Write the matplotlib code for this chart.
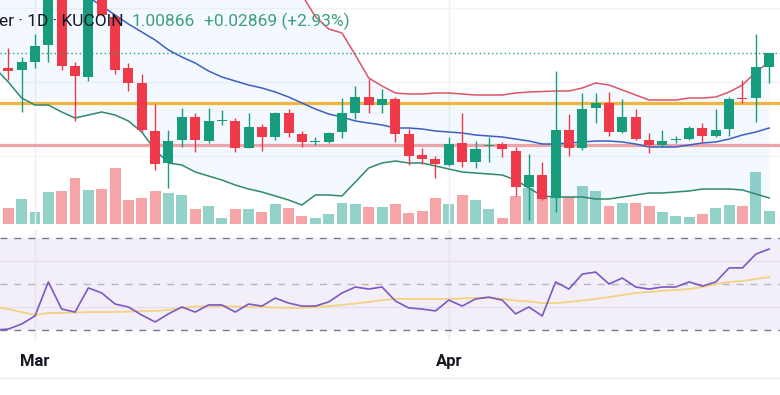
import numpy as np
import pandas as pd
import matplotlib
matplotlib.use("Agg")
import matplotlib.pyplot as plt
import matplotlib.dates as mdates

# daily candles, 27 Feb .. 25 Apr
dates = pd.date_range("2024-02-27", "2024-04-25", freq="D")

opens = [1.0045, 0.9785, 0.9745, 0.9905, 1.0245, 1.1545, 0.9825, 0.9605, 1.1445, 1.0805,
         0.9785, 0.9485, 0.8525, 0.7885, 0.8345, 0.8805, 0.8325, 0.8735, 0.8725, 0.8185,
         0.8605, 0.8405, 0.8885, 0.8465, 0.8305, 0.8305, 0.8505, 0.8885, 0.9205, 0.9045,
         0.9165, 0.8465, 0.8045, 0.7965, 0.7845, 0.8285, 0.7905, 0.8225, 0.8265, 0.8125,
         0.7405, 0.7645, 0.7185, 0.8545, 0.8185, 0.8985, 0.9085, 0.8505, 0.8805, 0.8345,
         0.8245, 0.8345, 0.8365, 0.8585, 0.8425, 0.8565, 0.9185, 0.9185, 0.9805]
highs = [1.0105, 1.0185, 1.0005, 1.0465, 1.1745, 1.1645, 0.9905, 1.1545, 1.1505, 1.0845,
         0.9885, 0.9665, 0.9065, 0.8545, 0.8985, 0.8885, 0.8985, 0.8945, 0.8785, 0.8885,
         0.8665, 0.8905, 0.8965, 0.8525, 0.8405, 0.8505, 0.9185, 0.9425, 0.9565, 0.9365,
         0.9205, 0.8565, 0.8185, 0.8025, 0.8405, 0.8885, 0.8325, 0.8405, 0.8305, 0.8205,
         0.8065, 0.7905, 0.9725, 0.8865, 0.9285, 0.9285, 0.9305, 0.9165, 0.8965, 0.8485,
         0.8545, 0.8425, 0.8625, 0.8685, 0.8965, 0.9205, 0.9545, 1.0465, 1.0085]
lows = [0.9765, 0.9545, 0.8905, 0.9785, 0.9905, 0.9745, 0.8725, 0.9525, 1.0825, 0.9665,
        0.9325, 0.8505, 0.7745, 0.7385, 0.8205, 0.8105, 0.8285, 0.8645, 0.8105, 0.8185,
        0.8125, 0.8345, 0.8405, 0.8205, 0.8245, 0.8285, 0.8385, 0.8765, 0.8885, 0.8885,
        0.8305, 0.7845, 0.7865, 0.7585, 0.7825, 0.7805, 0.7785, 0.7905, 0.8005, 0.7225,
        0.6745, 0.7145, 0.6905, 0.8025, 0.8145, 0.8685, 0.8425, 0.8485, 0.8345, 0.8085,
        0.8205, 0.8285, 0.8345, 0.8285, 0.8405, 0.8425, 0.9085, 0.8705, 0.9485]
closes = [0.9805, 0.9735, 0.9905, 1.0225, 1.1545, 0.9825, 0.9625, 1.1445, 1.0845, 0.9745,
          0.9485, 0.8545, 0.7865, 0.8325, 0.8805, 0.8345, 0.8725, 0.8755, 0.8185, 0.8605,
          0.8405, 0.8885, 0.8485, 0.8305, 0.8325, 0.8485, 0.8885, 0.9205, 0.9045, 0.9165,
          0.8465, 0.8025, 0.7965, 0.7865, 0.8265, 0.7905, 0.8165, 0.8245, 0.8165, 0.7405,
          0.7645, 0.7165, 0.8545, 0.8185, 0.8965, 0.9085, 0.8505, 0.8805, 0.8365, 0.8245,
          0.8325, 0.8365, 0.8585, 0.8425, 0.8545, 0.9165, 0.9165, 0.9805, 1.0085]
volume = [2.2, 1.6, 2.5, 1.2, 3.2, 3.3, 4.6, 3.4, 3.5, 5.6,
          2.4, 2.6, 3.3, 3.1, 2.9, 1.5, 1.8, 0.6, 1.5, 1.5,
          1.2, 2.0, 1.6, 0.8, 0.6, 1.0, 2.1, 2.0, 1.7, 1.7,
          2.0, 1.1, 1.3, 2.6, 2.0, 2.9, 2.4, 1.5, 0.6, 2.8,
          3.6, 2.7, 2.7, 2.7, 3.8, 3.3, 1.8, 2.1, 2.1, 1.8,
          1.2, 0.8, 0.7, 1.0, 1.6, 1.9, 1.8, 5.2, 1.3]

# Bollinger bands
bb_upper = [1.2945, 1.3045, 1.3145, 1.3145, 1.3145, 1.3145, 1.3145, 1.3045, 1.2945, 1.2845,
            1.2745, 1.2645, 1.2545, 1.2445, 1.2345, 1.2245, 1.2145, 1.2045, 1.1945, 1.1845,
            1.1745, 1.1645, 1.1545, 1.1245, 1.0815, 1.0565, 1.0485, 1.0045, 0.9585, 0.9425,
            0.9285, 0.9265, 0.9265, 0.9285, 0.9285, 0.9265, 0.9245, 0.9245, 0.9245, 0.9285,
            0.9305, 0.9315, 0.9325, 0.9325, 0.9385, 0.9485, 0.9445, 0.9345, 0.9245, 0.9145,
            0.9145, 0.9145, 0.9185, 0.9185, 0.9205, 0.9305, 0.9445, 0.9705, 0.9905]
bb_basis = [1.2305, 1.2145, 1.1985, 1.1825, 1.1665, 1.1505, 1.1345, 1.1205, 1.1025, 1.0845,
            1.0665, 1.0505, 1.0345, 1.0145, 1.0005, 0.9885, 0.9725, 0.9605, 0.9525, 0.9445,
            0.9385, 0.9305, 0.9205, 0.9085, 0.8965, 0.8865, 0.8805, 0.8725, 0.8685, 0.8645,
            0.8585, 0.8585, 0.8565, 0.8525, 0.8505, 0.8485, 0.8445, 0.8425, 0.8405, 0.8365,
            0.8325, 0.8265, 0.8265, 0.8285, 0.8305, 0.8325, 0.8325, 0.8305, 0.8265, 0.8205,
            0.8205, 0.8205, 0.8245, 0.8285, 0.8305, 0.8365, 0.8445, 0.8505, 0.8585]
bb_lower = [0.9785, 0.9505, 0.9185, 0.9045, 0.9045, 0.8905, 0.8785, 0.8845, 0.8905, 0.8845,
            0.8725, 0.8505, 0.8145, 0.7885, 0.7845, 0.7705, 0.7625, 0.7545, 0.7445, 0.7365,
            0.7305, 0.7225, 0.7145, 0.7045, 0.7245, 0.7245, 0.7225, 0.7505, 0.7785, 0.7885,
            0.7925, 0.7885, 0.7885, 0.7825, 0.7765, 0.7705, 0.7685, 0.7665, 0.7645, 0.7545,
            0.7385, 0.7225, 0.7205, 0.7205, 0.7205, 0.7165, 0.7165, 0.7205, 0.7245, 0.7285,
            0.7285, 0.7305, 0.7325, 0.7365, 0.7365, 0.7365, 0.7345, 0.7265, 0.7185]

rsi = [30.0, 30.4, 32.6, 36.1, 50.9, 39.1, 37.8, 48.3, 46.1, 41.3,
       40.0, 36.5, 33.5, 37.0, 40.0, 37.8, 40.9, 40.9, 37.8, 41.3,
       40.4, 43.9, 41.7, 40.4, 40.4, 42.2, 46.1, 48.7, 47.8, 48.7,
       42.6, 39.6, 39.1, 38.3, 43.0, 40.4, 43.5, 44.3, 43.0, 37.0,
       40.0, 36.1, 50.9, 47.8, 54.3, 55.2, 50.0, 52.6, 48.7, 47.8,
       48.7, 48.7, 50.9, 49.1, 50.9, 57.0, 57.0, 63.0, 65.2]
rsi_ma = [40.0, 39.1, 37.8, 36.5, 37.4, 37.4, 37.6, 37.8, 37.8, 37.8,
          38.0, 38.3, 38.3, 38.7, 39.6, 40.2, 40.4, 40.4, 40.2, 40.0,
          40.0, 39.8, 39.6, 39.6, 40.0, 40.4, 40.9, 41.5, 42.2, 43.0,
          43.5, 43.5, 43.5, 43.5, 43.5, 43.7, 43.9, 43.9, 43.5, 42.8,
          42.4, 41.7, 41.7, 42.2, 42.8, 43.5, 44.3, 45.2, 46.1, 46.5,
          47.0, 47.4, 47.8, 48.7, 50.0, 50.9, 51.3, 52.2, 53.0]

resistance = 0.9095
support = 0.8245
symbol_text = "er · 1D · KUCOIN"
price_text = "1.00866"
change_text = "+0.02869 (+2.93%)"

UP, DOWN = "#179c7d", "#ef3a4a"
UP_VOL, DOWN_VOL = "#93d2c8", "#f5a5a8"

x = mdates.date2num(dates)
o, h, l, c = map(np.array, (opens, highs, lows, closes))
up = c >= o
x_start = mdates.date2num(pd.Timestamp("2024-03-01"))
xlim = (x_start - 2.62, x_start + 55.81)

W, H = 780, 395
fig = plt.figure(figsize=(W / 100, H / 100), dpi=100)


def rect(top, bottom):
    return [0, 1 - bottom / H, 1, (bottom - top) / H]


# volume pane sits under the price pane
vax = fig.add_axes(rect(0, 224))
vax.bar(x, volume, width=0.82, color=np.where(up, UP_VOL, DOWN_VOL), lw=0)
vax.set_ylim(0, 22.4)

ax = fig.add_axes(rect(0, 225))
ax.patch.set_visible(False)
ax.set_ylim(1.1145 - 0.45, 1.1145)

for g in (1.0985, 0.9505, 0.8025):
    ax.axhline(g, color="#f0f3fa", lw=1, zorder=0)
for m in ("2024-03-01", "2024-04-01"):
    ax.axvline(mdates.date2num(pd.Timestamp(m)), color="#eceff5", lw=1, zorder=0)

ax.fill_between(x, bb_lower, bb_upper, color="#2196f3", alpha=0.05, lw=0, zorder=1)
ax.axhline(resistance, color="#f2b441", lw=2.3, zorder=2)
ax.axhline(support, color="#eca3aa", lw=2.3, zorder=2)
ax.plot(x, bb_upper, color="#dd5564", lw=1.1, zorder=3)
ax.plot(x, bb_basis, color="#3d5ec4", lw=1.1, zorder=3)
ax.plot(x, bb_lower, color="#2f8a6e", lw=1.1, zorder=3)

cols = np.where(up, UP, DOWN)
ax.vlines(x, l, h, color=cols, lw=1, zorder=4)
body = np.maximum(np.abs(c - o), 0.0015)
ax.bar(x, body, bottom=np.minimum(o, c), width=0.75, color=cols, lw=0, zorder=5)

ax.axhline(closes[-1], color="#2a9d84", lw=1, ls=(0, (1, 2)), zorder=6)

# RSI pane
rax = fig.add_axes(rect(230, 340))
rax.set_ylim(25.65, 73.48)
rax.axhspan(30, 70, color="#7e57c2", alpha=0.09, lw=0)
for g in (60, 40):
    rax.axhline(g, color="#e4dff0", lw=1)
for m in ("2024-03-01", "2024-04-01"):
    rax.axvline(mdates.date2num(pd.Timestamp(m)), color="#e8e4f0", lw=1)
rax.axhline(70, color="#787b86", lw=1, ls=(0, (5, 5)))
rax.axhline(30, color="#787b86", lw=1, ls=(0, (5, 5)))
rax.axhline(50, color="#787b86", lw=1, ls=(0, (5, 5)), alpha=0.5)
rax.plot(x, rsi_ma, color="#f4d27e", lw=1.3)
rax.plot(x, rsi, color="#7e57c2", lw=1.2)

for a in (vax, ax, rax):
    a.set_xlim(*xlim)
    for s in a.spines.values():
        s.set_visible(False)
    a.set_yticks([])
    a.tick_params(length=0)
vax.set_xticks([])
ax.set_xticks([])
rax.xaxis.set_major_locator(mdates.MonthLocator())
rax.xaxis.set_major_formatter(mdates.DateFormatter("%b"))
rax.tick_params(axis="x", pad=10, labelsize=12, labelcolor="#131722")
for t in rax.get_xticklabels():
    t.set_fontweight("bold")
    t.set_family("Roboto")

fig.add_artist(plt.Line2D([0, 1], [1 - 378 / H] * 2, color="#e6e8ee", lw=1))

ty = 1 - 21 / H
hdr = dict(fontsize=12.5, family="Roboto", va="center", zorder=10)
fig.text(-1 / W, ty, symbol_text, color="#131722", **hdr)
fig.text(132 / W, ty, price_text, color="#3e9f82", **hdr)
fig.text(204 / W, ty, change_text, color="#3e9f82", **hdr)

fig.savefig("out.png", dpi=100, facecolor="white")
